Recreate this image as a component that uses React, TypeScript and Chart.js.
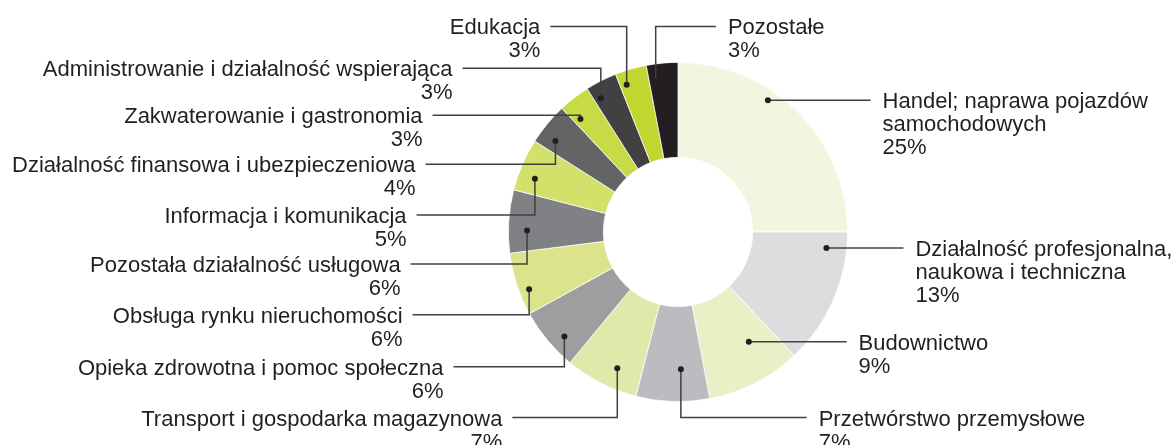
import React, { useEffect, useRef } from "react";
import { Chart, registerables } from "chart.js";

Chart.register(...registerables);

// ---- data ----
const categories: string[] = [
  "Handel; naprawa pojazdów\nsamochodowych",
  "Działalność profesjonalna,\nnaukowa i techniczna",
  "Budownictwo",
  "Przetwórstwo przemysłowe",
  "Transport i gospodarka magazynowa",
  "Opieka zdrowotna i pomoc społeczna",
  "Obsługa rynku nieruchomości",
  "Pozostała działalność usługowa",
  "Informacja i komunikacja",
  "Działalność finansowa i ubezpieczeniowa",
  "Zakwaterowanie i gastronomia",
  "Administrowanie i działalność wspierająca",
  "Edukacja",
  "Pozostałe",
];
const shares: number[] = [25, 13, 9, 7, 7, 6, 6, 6, 5, 4, 3, 3, 3, 3];

// ---- styles ----
const segmentColors: string[] = [
  "#f2f6e0", "#dcdddf", "#e8f0c5", "#bbbcbf", "#e0e9a9", "#9d9ea0", "#dbe48a",
  "#808184", "#d3e069", "#636466", "#c9da47", "#414042", "#c1d72f", "#231f20",
];

// label layout (annotation placement, relative to chart centre at reference radius 170)
// y: leader line level, x: text edge, r: dot radius fraction, s: straight leader
const labelLineY: number[] = [-132, 16, 110, 186, 186, 135, 83, 32, -17, -68, -117, -164, -206, -206];
const labelEdgeX: number[] = [205, 238, 181, 141, -176, -235, -276, -278, -272, -263, -256, -226, -138, 50];
const dotRadius: number[] = [0.94, 0.88, 0.77, 0.81, 0.88, 0.91, 0.94, 0.89, 0.9, 0.9, 0.88, 0.91, 0.92, 0.9];
const straightLeader: boolean[] = [true, true, true, false, false, false, false, false, false, false, false, false, false, false];

const FONT = '22px "Liberation Sans", Arial, sans-serif';
const TEXT_COLOR = "#231f20";
const LINE_COLOR = "#404041";

const labelPlugin = {
  id: "leaderLabels",
  afterDatasetsDraw(chart: any) {
    const ctx = chart.ctx as CanvasRenderingContext2D;
    const meta = chart.getDatasetMeta(0);
    ctx.save();
    ctx.font = FONT;
    meta.data.forEach((arc: any, i: number) => {
      const p = arc.getProps(["x", "y", "startAngle", "endAngle", "outerRadius"], true);
      const R = p.outerRadius;
      const k = R / 170;
      const lineY = p.y + labelLineY[i] * k;
      const edge = p.x + labelEdgeX[i] * k;
      const right = labelEdgeX[i] > 0;
      let dx: number, dy: number;
      if (straightLeader[i]) {
        const rr = dotRadius[i] * R;
        dy = lineY;
        const off = lineY - p.y;
        dx = p.x + Math.sqrt(Math.max(rr * rr - off * off, 0));
      } else {
        const mid = (p.startAngle + p.endAngle) / 2 - (3 * Math.PI) / 180;
        dx = p.x + dotRadius[i] * R * Math.cos(mid);
        dy = p.y + dotRadius[i] * R * Math.sin(mid);
      }
      // leader
      ctx.strokeStyle = LINE_COLOR;
      ctx.lineWidth = 1.5;
      ctx.beginPath();
      ctx.moveTo(dx, dy);
      ctx.lineTo(dx, lineY);
      ctx.lineTo(right ? edge - 12 : edge + 10, lineY);
      ctx.stroke();
      // dot
      ctx.fillStyle = "#231f20";
      ctx.beginPath();
      ctx.arc(dx, dy, 3, 0, Math.PI * 2);
      ctx.fill();
      // text
      const lines = categories[i].split("\n").concat([`${shares[i]}%`]);
      ctx.fillStyle = TEXT_COLOR;
      ctx.textAlign = right ? "left" : "right";
      ctx.textBaseline = "alphabetic";
      lines.forEach((t, j) => {
        ctx.fillText(t, edge, lineY + 8 + j * 23);
      });
    });
    ctx.restore();
  },
};

export default function App() {
  const ref = useRef<HTMLCanvasElement | null>(null);
  useEffect(() => {
    if (!ref.current) return;
    const chart = new Chart(ref.current, {
      type: "doughnut",
      data: {
        labels: categories,
        datasets: [
          {
            data: shares,
            backgroundColor: segmentColors,
            borderColor: "#ffffff",
            borderWidth: 0.75,
            hoverOffset: 0,
          },
        ],
      },
      options: {
        responsive: false,
        animation: false,
        cutout: "44%",
        layout: { padding: { left: 508, right: 327, top: 62, bottom: 43 } },
        plugins: {
          legend: { display: false },
          tooltip: { enabled: false },
        },
      },
      plugins: [labelPlugin],
    });
    return () => chart.destroy();
  }, []);
  return (
    <div style={{ position: "absolute", left: 0, top: 0, width: 1175, height: 445, background: "#ffffff" }}>
      <canvas ref={ref} width={1175} height={445} />
    </div>
  );
}
